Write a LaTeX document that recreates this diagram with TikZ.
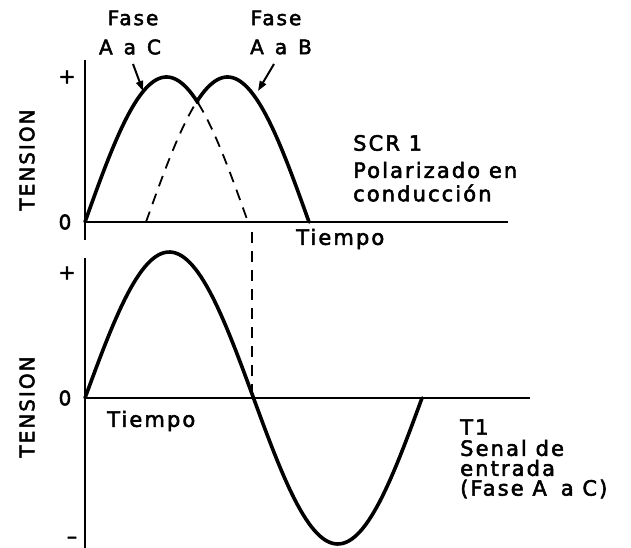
\documentclass[tikz,border=0pt]{standalone}
\usepackage{fontspec}
\setmainfont{DejaVu Sans}[LetterSpace=10,FakeBold=2.5]
\usetikzlibrary{arrows.meta}
\begin{document}
\begin{tikzpicture}[x=1pt,y=-1pt,
  lbl/.style={font=\fontsize{20}{22}\selectfont, inner sep=0pt},
  txt/.style={font=\fontsize{21}{23}\selectfont, inner sep=0pt, anchor=west},
  axis/.style={line width=2.4pt},
  wave/.style={line width=3.6pt, line cap=round, line join=round},
  dwave/.style={line width=1.8pt, dash pattern=on 11pt off 8pt},
  pointer/.style={line width=2pt, -{Triangle[length=10pt,width=7pt]}}]
\useasboundingbox (0,0) rectangle (631,548);
% axes
\draw[axis] (85,60) -- (85,240);
\draw[axis] (85,222) -- (508,222);
\draw[axis] (85,258) -- (85,548);
\draw[axis] (85,398) -- (530,398);
% top waves
\draw[wave] plot[domain=85:198, samples=60] (\x,{222-145*sin((\x-85)/163*180)});
\draw[dwave] plot[domain=198:248, samples=40] (\x,{222-145*sin((\x-85)/163*180)});
\draw[dwave] plot[domain=146:198, samples=40] (\x,{222-145*sin((\x-146)/163*180)});
\draw[wave] plot[domain=198:309, samples=60] (\x,{222-145*sin((\x-146)/163*180)});
% bottom wave
\draw[wave] plot[domain=85:422, samples=120] (\x,{398-146*sin((\x-85)/168.5*180)});
% vertical dashed link
\coordinate (d1) at (252,232);
\coordinate (d2) at (252,394);
\draw[dwave] (d1) -- (d2);
% labels
\node[lbl] (fase1) at (133,18) {Fase};
\node[lbl] (fase2) at (276,18) {Fase};
\node[lbl] (ac) at (130,47) {A\hspace{11pt}a\hspace{11pt}C};
\node[lbl] (ab) at (281,47) {A\hspace{11pt}a\hspace{11pt}B};
\coordinate (a1s) at (133,64);
\coordinate (a1e) at (143,91);
\coordinate (a2s) at (274,64);
\coordinate (a2e) at (258,91);
\draw[pointer] (a1s) -- (a1e);
\draw[pointer] (a2s) -- (a2e);
\node[lbl, rotate=90] (ten1) at (27,160) {TENSION};
\node[lbl, rotate=90] (ten2) at (27,407) {TENSION};
\node[lbl] (z1) at (65,222) {0};
\node[lbl] (z2) at (65,398) {0};
\node[lbl] (p1) at (67,77) {+};
\node[lbl] (p2) at (67,273) {+};
\node[lbl] (m1) at (72,540) {\textendash};
\node[txt] (t1) at (296,239) {Tiempo};
\node[txt] (t2) at (107,421) {Tiempo};
\node[txt] (s1) at (353,143) {SCR 1};
\node[txt] (s2) at (353,170) {Polarizado en};
\node[txt] (s3) at (353,193) {conducción};
\node[txt] (r1) at (460,427) {T1};
\node[txt] (r2) at (460,448) {Senal de};
\node[txt] (r3) at (460,468) {entrada};
\node[txt] (r4) at (460,489) {(Fase A\hspace{14pt}a C)};
\end{tikzpicture}
\end{document}
